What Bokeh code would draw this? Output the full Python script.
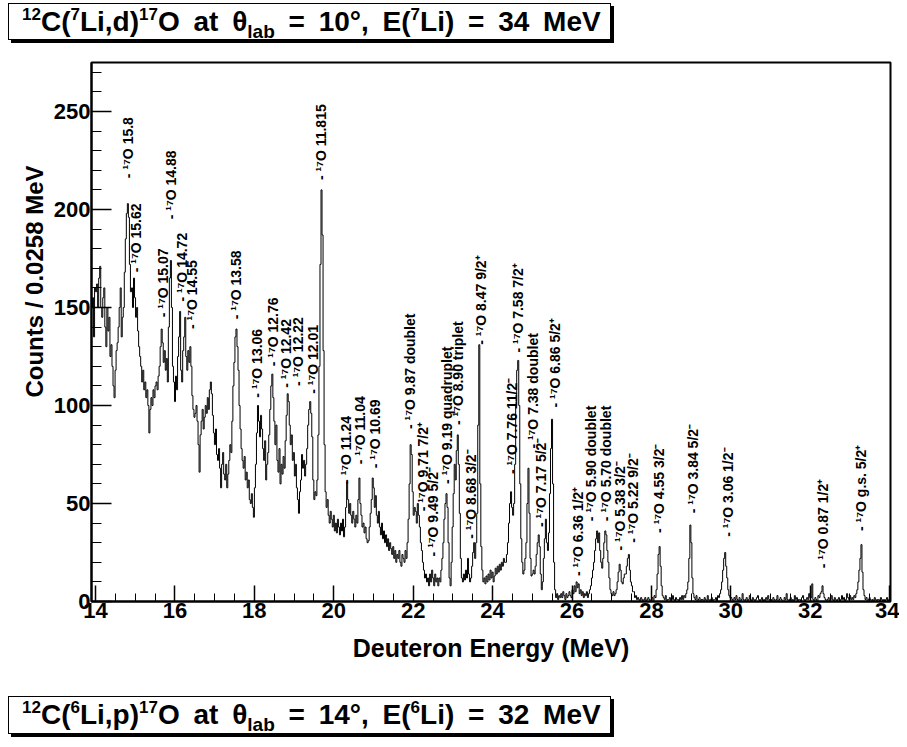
import numpy as np
from bokeh.plotting import figure
from bokeh.models import Range1d, SingleIntervalTicker, ColumnDataSource, Title, Div
from bokeh.layouts import column
from bokeh.core.properties import value
from bokeh.embed import file_html
from bokeh.resources import INLINE

FONT = "Liberation Sans"

# ---------------- data ----------------
e_start = 13.9          # MeV, low edge of first bin
bin_width = 0.0258      # MeV per bin

# counts per bin, 39 bins (~1 MeV) per segment
seg_13p9 = [150,155,135,160,158,162,150,165,171,150,145,155,160,140,130,150,138,145,125,131,120,110,104,118,128,132,140,150,160,135,145,150,168,185,198,203,196,172,158]
seg_14p9 = [160,150,165,155,145,150,138,130,125,120,112,118,108,112,104,108,100,86,98,104,100,108,104,110,112,108,115,120,130,139,132,122,128,118,124,112,140,165,174]
seg_15p9 = [150,120,112,102,115,108,125,135,148,118,112,128,135,145,125,118,128,122,130,120,105,98,94,96,100,92,80,66,85,92,98,88,94,100,96,104,98,108,112]
seg_16p9 = [106,95,86,80,88,75,72,78,68,58,70,76,65,62,70,58,65,72,80,76,92,110,122,135,139,130,118,100,88,78,72,68,74,62,66,58,62,52,50]
seg_17p9 = [55,48,43,58,70,86,100,92,84,95,88,78,72,82,62,70,76,85,98,110,116,104,92,80,90,72,66,78,60,70,65,74,68,82,95,106,102,90,80]
seg_18p9 = [85,72,76,64,70,58,52,45,56,62,75,68,72,64,70,78,90,98,102,96,84,62,52,56,54,62,85,120,172,210,187,128,80,56,48,52,44,40,46]
seg_19p9 = [42,38,44,36,40,35,42,38,34,40,36,42,33,38,48,61,52,45,50,44,40,46,42,38,44,40,52,63,50,44,38,40,35,38,32,30,31,38,45]
seg_20p9 = [52,63,58,48,54,44,40,46,38,34,40,32,36,30,34,28,32,26,30,27,24,28,22,26,20,24,22,26,20,18,24,22,20,26,22,30,42,60,80]
seg_21p9 = [75,56,44,48,46,40,50,44,38,30,26,20,16,12,14,10,12,8,14,10,16,12,8,14,10,12,8,12,10,16,22,30,42,50,55,48,30,12,8]
seg_22p9 = [20,38,55,70,62,77,85,70,45,22,12,10,14,11,16,12,22,14,10,12,18,25,30,22,30,45,90,131,60,28,16,10,12,9,13,10,14,11,16]
seg_23p9 = [12,15,10,13,17,14,18,15,19,16,20,18,22,20,20,24,30,40,50,56,48,44,50,70,100,118,123,100,60,32,20,14,16,22,30,50,68,45,22]
seg_24p9 = [13,14,16,14,18,24,30,34,28,14,6,10,22,32,42,30,26,35,55,78,93,60,20,6,2,4,1,3,2,4,2,5,3,1,4,2,3,5,3]
seg_25p9 = [2,6,4,8,5,10,7,9,4,6,3,5,2,4,3,5,2,4,6,8,12,16,20,26,32,36,30,35,26,20,17,22,30,36,34,26,20,12,6]
seg_26p9 = [4,3,5,3,4,6,10,15,19,16,10,9,12,14,14,18,22,24,16,10,8,5,5,2,3,1,2,1,0,2,1,0,1,2,0,1,2,1,0]
seg_27p9 = [1,2,0,3,2,6,14,24,28,18,8,3,2,1,3,0,1,1,2,0,1,3,1,0,2,1,1,0,2,1,3,1,3,2,4,6,10,22,39]
seg_28p9 = [30,12,4,2,1,3,0,1,2,0,1,1,0,2,1,0,3,1,0,1,2,0,1,1,2,0,3,2,4,6,10,16,22,25,18,12,6,3,2]
seg_29p9 = [2,1,0,2,1,3,1,0,2,0,1,4,1,0,1,2,0,1,3,1,0,2,1,0,1,2,3,1,0,1,2,0,1,0,2,1,3,1,0]
seg_31p0 = [1,0,2,1,0,1,3,0,1,2,1,0,0,2,1,4,1,0,1,2,0,1,0,3,1,2,0,1,1,0,2,3,1,0,1,2,1,4,2]
seg_32p0 = [2,9,1,0,2,1,0,3,2,4,5,8,4,2,1,0,1,2,0,1,3,1,0,2,1,0,1,2,0,1,3,1,2,0,1,4,2,1,3]
seg_33p0 = [1,2,1,3,2,4,6,10,16,22,29,15,6,3,1,2,0,1,2,1,0,1,0,2,1,0,1,1,0,2,1,0,1,0,1,2,0,1,0]

# peak annotations: deuteron energy, count level where the label starts, 17O state
peak_energy = [14.83, 15.03, 15.69, 15.89, 16.19, 16.44, 17.55, 18.08, 18.48, 18.81, 19.11, 19.47, 19.69,
               20.32, 20.65, 21.05, 21.93, 22.26, 22.51, 22.84, 23.12, 23.45, 23.70, 24.50, 24.63, 25.01,
               25.21, 25.56, 26.14, 26.49, 26.85, 27.20, 27.53, 28.18, 29.04, 29.92, 32.31, 33.27]
peak_level = [216, 168, 145, 195, 153, 139, 144, 104, 120, 109, 110, 106, 215,
              60, 70, 68, 88, 46, 23, 60, 90, 32, 131, 65, 127, 78,
              38, 99, 13, 41, 41, 26, 30, 35, 45, 33, 17, 36]
peak_state = ["15.8", "15.62", "15.07", "14.88", "14.72", "14.55", "13.58", "13.06", "12.76", "12.42",
              "12.22", "12.01", "11.815", "11.24", "11.04", "10.69", "9.87  doublet", "9.71  7/2\u207a",
              "9.49  5/2\u207b", "9.19  quadruplet", "8.90  triplet", "8.68  3/2\u207b", "8.47  9/2\u207a",
              "7.76  11/2\u207b", "7.58  7/2\u207a", "7.38  doublet", "7.17  5/2\u207b", "6.86  5/2\u207a",
              "6.36  1/2\u207a", "5.90  doublet", "5.70  doublet", "5.38  3/2\u207b", "5.22  9/2\u207b",
              "4.55  3/2\u207b", "3.84  5/2\u207b", "3.06  1/2\u207b", "0.87  1/2\u207a", "g.s.  5/2\u207a"]

x_tick_interval = 2
y_tick_interval = 50
x_title = "Deuteron Energy (MeV)"
y_title = "Counts / 0.0258 MeV"

counts = (seg_13p9 + seg_14p9 + seg_15p9 + seg_16p9 + seg_17p9 + seg_18p9 + seg_19p9 + seg_20p9 +
          seg_21p9 + seg_22p9 + seg_23p9 + seg_24p9 + seg_25p9 + seg_26p9 + seg_27p9 + seg_28p9 +
          seg_29p9 + seg_31p0 + seg_32p0 + seg_33p0)
edges = [e_start + bin_width * i for i in range(len(counts) + 1)]

# ---------------- figure ----------------
p = figure(width=899, height=646, output_backend="svg", toolbar_location=None,
           x_range=Range1d(13.9, 34.02), y_range=Range1d(0, 275),
           min_border_left=91, min_border_right=9, min_border_top=18, min_border_bottom=89)
p.title.visible = False
p.grid.visible = False
p.background_fill_color = "white"
p.border_fill_color = "white"
p.outline_line_color = "black"
p.outline_line_width = 2

p.step(x=edges[:-1] + [edges[-1]], y=counts + [counts[-1]], mode="after",
       line_color="black", line_width=1)

src = ColumnDataSource(dict(x=peak_energy, y=peak_level,
                            label=["- \u00b9\u2077O " + s for s in peak_state]))
p.text(x="x", y="y", text="label", source=src, angle=np.pi / 2,
       text_align="left", text_baseline="middle", text_font=value(FONT),
       text_font_size="14px", text_font_style="bold", text_color="black")

for ax, interval, nminor, tin, min_in in ((p.xaxis[0], x_tick_interval, 4, 16, 8),
                                          (p.yaxis[0], y_tick_interval, 5, 20, 10)):
    ax.ticker = SingleIntervalTicker(interval=interval, num_minor_ticks=nminor)
    ax.major_tick_in = tin
    ax.major_tick_out = 0
    ax.minor_tick_in = min_in
    ax.minor_tick_out = 0
    ax.major_tick_line_color = "black"
    ax.minor_tick_line_color = "black"
    ax.major_tick_line_width = 1.5
    ax.axis_line_color = "black"
    ax.axis_line_width = 2
    ax.major_label_text_font = FONT
    ax.major_label_text_font_size = "22px"
    ax.major_label_text_font_style = "bold"
    ax.major_label_text_color = "black"
    ax.major_label_standoff = 1

p.xaxis[0].axis_label = x_title
p.xaxis[0].axis_label_text_font = FONT
p.xaxis[0].axis_label_text_font_size = "25px"
p.xaxis[0].axis_label_text_font_style = "bold"
p.xaxis[0].axis_label_text_color = "black"
p.xaxis[0].axis_label_standoff = 13

p.add_layout(Title(text=y_title, align="right", offset=103, text_font=FONT,
                   text_font_size="24px", text_font_style="bold", text_color="black",
                   standoff=6), "left")


def box_html(text, top_margin, height):
    return ('<div style="margin:%dpx 0 0 8px; box-sizing:border-box; width:603px; height:%dpx; '
            'border:1px solid #000; box-shadow:3px 3px 0 0 #000; background:#fff; color:#000; '
            "font-family:'Liberation Sans', Arial, sans-serif; font-weight:bold; font-size:28px; "
            'white-space:nowrap; padding-left:13px; line-height:%dpx; word-spacing:6px;">%s</div>'
            % (top_margin, height, height - 2, text))


SUP = '<span style="font-size:17px; vertical-align:11px; line-height:0">%s</span>'
SUB = '<span style="font-size:19px; vertical-align:-7px; line-height:0">%s</span>'

title_top = (SUP % "12") + "C(" + (SUP % "7") + "Li,d)" + (SUP % "17") + "O at &theta;" + (SUB % "lab") + \
    " = 10&deg;, E(" + (SUP % "7") + "Li) = 34 MeV"
title_bot = (SUP % "12") + "C(" + (SUP % "6") + "Li,p)" + (SUP % "17") + "O at &theta;" + (SUB % "lab") + \
    " = 14&deg;, E(" + (SUP % "6") + "Li) = 32 MeV"

top_div = Div(text=box_html(title_top, 3, 37), width=899, height=44, margin=0)
bot_div = Div(text=box_html(title_bot, 6, 38), width=899, height=50, margin=0)

layout = column(top_div, p, bot_div, spacing=0)

open("out.html", "w").write(file_html(layout, INLINE))
